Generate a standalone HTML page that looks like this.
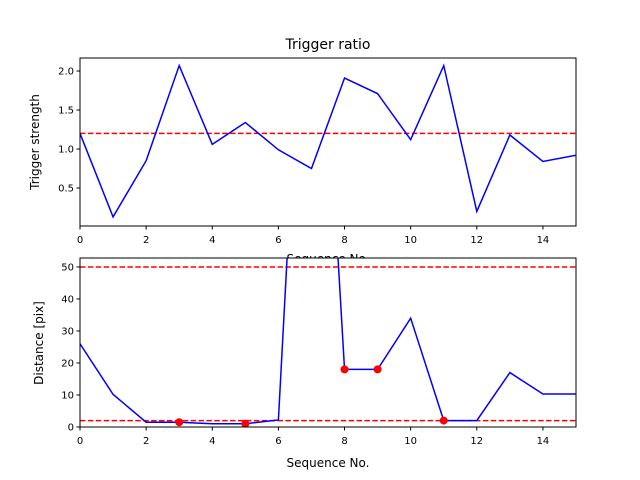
<!DOCTYPE html>
<html><head><meta charset="utf-8"><style>body{margin:0;background:#fff}svg{display:block;font-family:"DejaVu Sans","Liberation Sans",sans-serif}</style></head>
<body>
<svg id="c" width="640" height="480"></svg>
<script>
const seq=[0,1,2,3,4,5,6,7,8,9,10,11,12,13,14,15];
const strength=[1.2,0.13,0.85,2.07,1.06,1.34,0.99,0.75,1.91,1.71,1.12,2.07,0.2,1.18,0.84,0.92];
const strengthThreshold=1.2;
const distance=[26,10.2,1.5,1.5,1,1,2.2,195,18,18,34,2,2,17,10.3,10.3];
const flagged=[3,5,8,9,11];
const distUpper=50, distLower=2;
const xTicks=[0,2,4,6,8,10,12,14];
const topYTicks=[0.5,1.0,1.5,2.0];
const botYTicks=[0,10,20,30,40,50];
const NS='http://www.w3.org/2000/svg';
const svg=document.getElementById('c');
function el(t,a,p){const e=document.createElementNS(NS,t);for(const k in a)e.setAttribute(k,a[k]);(p||svg).appendChild(e);return e;}
const L=80,R=576;
const x=v=>L+(v-0)*(R-L)/15;
function panel(top,bot,ymin,ymax,name){
  const y=v=>bot-(v-ymin)*(bot-top)/(ymax-ymin);
  const g=el('g',{});
  
  
  const bg=el('rect',{x:L,y:top,width:R-L,height:bot-top,fill:'#fff'},g);
  
  
  const cp=el('clipPath',{id:name+'-clip'},g);
  el('rect',{x:L,y:top,width:R-L,height:bot-top},cp);
  const plot=el('g',{'clip-path':'url(#'+name+'-clip)'},g);
  return {g,plot,y,top,bot};
}
function axes(p,yt,fmt,name){
  const f=el('rect',{x:L,y:p.top,width:R-L,height:p.bot-p.top,fill:'none',stroke:'#000','stroke-width':1},p.g);
  
  
  xTicks.forEach(t=>{
    el('line',{x1:x(t),x2:x(t),y1:p.bot,y2:p.bot+3.5,stroke:'#000'},p.g);
    const tx=el('text',{x:x(t),y:p.bot+17,'font-size':10,'text-anchor':'middle'},p.g);tx.textContent=t;
    
    
  });
  yt.forEach(t=>{
    el('line',{x1:L-3.5,x2:L,y1:p.y(t),y2:p.y(t),stroke:'#000'},p.g);
    const tx=el('text',{x:L-6,y:p.y(t)+3.5,'font-size':10,'text-anchor':'end'},p.g);tx.textContent=fmt(t);
    
    
  });
}
function hline(p,v,name){const l=el('line',{x1:L,x2:R,y1:p.y(v),y2:p.y(v),stroke:'red','stroke-width':1.5,'stroke-dasharray':'5.5,2.4'},p.plot);
  
  }
function series(p,vals,name){const l=el('polyline',{points:seq.map((s,i)=>x(s)+','+p.y(vals[i])).join(' '),fill:'none',stroke:'blue','stroke-width':1.5},p.plot);
  
  }

const ti=el('text',{x:328,y:49,'font-size':14,'text-anchor':'middle'});ti.textContent='Trigger ratio';



const p1=panel(58,226,0.013,2.167,'top-panel');
hline(p1,strengthThreshold,'strength-threshold');
series(p1,strength,'strength-line');
axes(p1,topYTicks,t=>t.toFixed(1),'top-panel');
const yl1=el('text',{x:0,y:0,'font-size':12,'text-anchor':'middle',transform:'translate(39,142) rotate(-90)'});yl1.textContent='Trigger strength';


const xl1=el('text',{x:328,y:263,'font-size':12,'text-anchor':'middle'});xl1.textContent='Sequence No.';



const p2=panel(258,427,0,52.8,'bottom-panel');
hline(p2,distUpper,'distance-upper-threshold');
hline(p2,distLower,'distance-lower-threshold');
series(p2,distance,'distance-line');
flagged.forEach(i=>{const c=el('circle',{cx:x(seq[i]),cy:p2.y(distance[i]),r:4,fill:'red'},p2.plot);
  
  });
axes(p2,botYTicks,t=>String(t),'bottom-panel');
const yl2=el('text',{x:0,y:0,'font-size':12,'text-anchor':'middle',transform:'translate(43,343) rotate(-90)'});yl2.textContent='Distance [pix]';


const xl2=el('text',{x:328,y:467,'font-size':12,'text-anchor':'middle'});xl2.textContent='Sequence No.';


</script>
</body></html>
